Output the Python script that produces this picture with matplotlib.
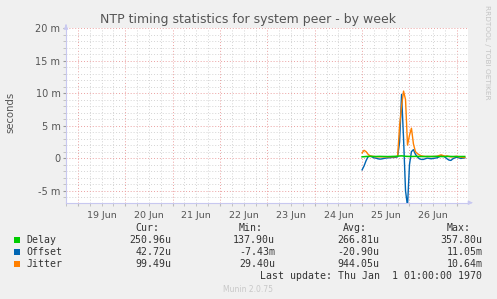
import numpy as np
import matplotlib
matplotlib.use("Agg")
import matplotlib.pyplot as plt

# ---- data (milliseconds), hourly samples starting 25 Jun 00:00 ----
delay = [0.20,0.22,0.25,0.26,0.27,0.26,0.25,0.25,0.26,0.27,0.26,0.25,0.25,0.24,0.25,0.26,0.27,0.28,0.30,0.33,
         0.35,0.32,0.28,0.27,0.26,0.25,0.26,0.27,0.26,0.25,0.25,0.24,0.25,0.26,0.25,0.25,0.26,0.27,0.26,0.25,
         0.25,0.24,0.25,0.26,0.27,0.26,0.25,0.25,0.24,0.25,0.25,0.25,0.25]
offset = [-1.8,-1.2,-0.4,0.2,0.35,0.2,0.05,0.0,-0.1,-0.15,-0.12,-0.05,0.0,0.05,0.05,0.1,0.1,0.12,0.2,2.5,
          9.8,3.0,-5.0,-7.4,-1.0,1.0,1.3,0.6,0.2,-0.1,-0.2,-0.2,-0.1,0.0,-0.05,-0.1,-0.05,0.0,0.05,0.2,
          0.4,0.35,0.15,-0.1,-0.3,-0.35,-0.1,0.05,0.15,0.05,-0.05,0.0,0.04]
jitter = [0.8,1.2,1.0,0.6,0.35,0.3,0.25,0.22,0.2,0.2,0.2,0.2,0.2,0.2,0.2,0.2,0.2,0.22,0.3,5.0,
          8.0,10.3,9.0,2.0,3.5,4.6,2.2,1.0,0.7,0.5,0.35,0.3,0.25,0.25,0.25,0.25,0.25,0.25,0.3,0.4,
          0.5,0.4,0.3,0.35,0.25,0.2,0.2,0.25,0.3,0.2,0.15,0.1,0.1]

day_labels = ["19 Jun", "20 Jun", "21 Jun", "22 Jun", "23 Jun", "24 Jun", "25 Jun", "26 Jun"]
ytick_vals = [-5, 0, 5, 10, 15, 20]
ytick_labels = ["-5 m", "0", "5 m", "10 m", "15 m", "20 m"]

series_names = ["Delay", "Offset", "Jitter"]
series_colors = ["#00CC00", "#0066B3", "#FF8000"]
cur_vals = ["250.96u", "42.72u", "99.49u"]
min_vals = ["137.90u", "-7.43m", "29.40u"]
avg_vals = ["266.81u", "-20.90u", "944.05u"]
max_vals = ["357.80u", "11.05m", "10.64m"]

W, H = 497, 299
fig = plt.figure(figsize=(W/100, H/100), dpi=100, facecolor="#F0F0F0")

def px(x, y):
    return x / W, 1 - y / H

left, right, top, bottom = 66, 468, 28, 202.7
ax = fig.add_axes([left/W, 1-bottom/H, (right-left)/W, (bottom-top)/H])
ax.set_facecolor("white")

hours = np.arange(len(delay))
ax.plot(hours, offset, color=series_colors[1], lw=1.0, zorder=3)
ax.plot(hours, jitter, color=series_colors[2], lw=1.0, zorder=4)
ax.plot(hours, delay, color=series_colors[0], lw=1.1, zorder=5)

ax.set_xlim(-147.35, 53.65)
ax.set_ylim(-6.85, 20)

# grid
day_starts = np.arange(-144, 49, 24)
ax.set_xticks(day_starts)
ax.set_xticks(np.arange(-150, 54, 6), minor=True)
ax.set_yticks(ytick_vals)
ax.set_yticklabels(ytick_labels)
ax.set_yticks(np.arange(-6, 21, 1), minor=True)
ax.grid(which="minor", color="#D4D4D4", linestyle=(0, (1, 2)), lw=0.7)
ax.grid(which="major", color="#EBA0A0", linestyle=(0, (1, 2)), lw=0.7)
ax.set_xticklabels([])
for i, lab in enumerate(day_labels):
    ax.text(day_starts[i] + 12, -0.05, lab, transform=ax.get_xaxis_transform(),
            ha="center", va="top", fontsize=6.8, color="#555555")
ax.tick_params(axis="y", which="major", length=2, color="#999999", labelsize=7, labelcolor="#555555", pad=2)
ax.tick_params(axis="y", which="minor", length=2, color="#BBBBBB")
ax.tick_params(axis="x", which="both", length=2, color="#BBBBBB")

for s in ["top", "right"]:
    ax.spines[s].set_visible(False)
for s in ["left", "bottom"]:
    ax.spines[s].set_color("#C8C8F0")
    ax.spines[s].set_linewidth(0.8)

# axis arrows
ax.annotate("", xy=(1.012, 0), xytext=(1.0, 0), xycoords="axes fraction",
            arrowprops=dict(arrowstyle="-|>", color="#C8C8F0", lw=0.8, mutation_scale=6), annotation_clip=False)
ax.annotate("", xy=(0, 1.035), xytext=(0, 1.0), xycoords="axes fraction",
            arrowprops=dict(arrowstyle="-|>", color="#C8C8F0", lw=0.8, mutation_scale=6), annotation_clip=False)

# title and labels
fig.text(*px(248, 19.5), "NTP timing statistics for system peer - by week", ha="center", va="center",
         fontsize=9.0, color="#555555")
fig.text(*px(10, 112), "seconds", rotation=90, ha="center", va="center", fontsize=7.3, color="#555555")
fig.text(*px(487, 5), "RRDTOOL / TOBI OETIKER", rotation=-90, ha="center", va="top",
         fontsize=5.3, color="#C4C4C4")

# legend
mono = "DejaVu Sans Mono"
lfs = 7.1
tc = "#333333"
value_right = [171.3, 275, 379, 482.3]
headers = ["Cur:", "Min:", "Avg:", "Max:"]
for xr, hd in zip(value_right, headers):
    fig.text(*px(xr - 12, 228), hd, ha="right", va="center", family=mono, fontsize=lfs, color=tc)
rows_y = [240, 252, 264]
cols = [cur_vals, min_vals, avg_vals, max_vals]
for i, name in enumerate(series_names):
    y = rows_y[i]
    fig.patches.append(plt.Rectangle(px(14, y + 3), 6/W, 6/H, transform=fig.transFigure,
                                     facecolor=series_colors[i], edgecolor="none"))
    fig.text(*px(26, y), name, ha="left", va="center", family=mono, fontsize=lfs, color=tc)
    for xr, col in zip(value_right, cols):
        fig.text(*px(xr, y), col[i], ha="right", va="center", family=mono, fontsize=lfs, color=tc)
fig.text(*px(482.3, 276), "Last update: Thu Jan  1 01:00:00 1970", ha="right", va="center",
         family=mono, fontsize=lfs, color=tc)
fig.text(*px(248, 289), "Munin 2.0.75", ha="center", va="center", fontsize=5.5, color="#C8C8C8")

fig.savefig("out.png", dpi=100, facecolor=fig.get_facecolor())
